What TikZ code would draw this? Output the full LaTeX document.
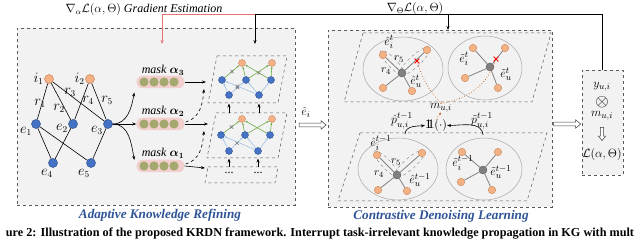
\documentclass[tikz,border=0pt]{standalone}
\usepackage{amsmath,amssymb,bm}
\usepackage{fontspec}
\setmainfont{Liberation Serif}
\usetikzlibrary{arrows.meta,shapes.geometric,shapes.misc,shapes.arrows,calc}
\definecolor{panel}{HTML}{F2F2F2}
\definecolor{nblue}{HTML}{4472C4}
\definecolor{nblueD}{HTML}{2F528F}
\definecolor{norange}{HTML}{F4B183}
\definecolor{norangeD}{HTML}{C9865A}
\definecolor{ngray}{HTML}{808080}
\definecolor{ngrayD}{HTML}{595959}
\definecolor{ggreen}{HTML}{70AD47}
\definecolor{lblue}{HTML}{9DC3E6}
\definecolor{pinkbar}{HTML}{F2CFCF}
\definecolor{olivec}{HTML}{A4A86E}
\definecolor{redline}{HTML}{E57373}
\definecolor{titleblue}{HTML}{2F5597}
\definecolor{dotor}{HTML}{C55A11}
\newcommand{\indone}{\mathrm{1}\mkern-5.5mu\mathrm{1}}
\begin{document}
\begin{tikzpicture}[x=1pt,y=-1pt,
  font=\fontsize{12}{14}\selectfont,
  kgb/.style={circle,fill=nblue,draw=nblueD,line width=0.5pt,minimum size=9pt,inner sep=0pt},
  kgo/.style={circle,fill=norange,draw=norangeD,line width=0.5pt,minimum size=9pt,inner sep=0pt},
  sb/.style={circle,fill=nblue,draw=nblueD,line width=0.4pt,minimum size=7pt,inner sep=0pt},
  so/.style={circle,fill=norange,draw=norangeD,line width=0.4pt,minimum size=7pt,inner sep=0pt},
  ro/.style={circle,fill=norange,draw=norangeD,line width=0.4pt,minimum size=7.5pt,inner sep=0pt},
  cg/.style={circle,fill=ngray,draw=ngrayD,line width=0.4pt,minimum size=8pt,inner sep=0pt},
  kgl/.style={inner sep=0pt,font=\fontsize{13.5}{14}\selectfont},
  lbl/.style={inner sep=0pt,font=\fontsize{13}{15}\selectfont},
  slbl/.style={inner sep=0pt,font=\fontsize{11}{12}\selectfont},
  panelbox/.style={draw=black!65,dashed,line width=0.6pt,fill=panel,inner sep=0pt},
  para/.style={draw=black!65,dashed,line width=0.5pt},
  arr/.style={-{Stealth[length=4pt,width=3pt]},line width=0.6pt},
  garr/.style={-{Stealth[length=2.5pt,width=2pt]},draw=ggreen,line width=0.6pt},
  barr/.style={-{Stealth[length=2.5pt,width=2pt]},draw=lblue,line width=0.6pt},
  kge/.style={line width=0.6pt},
  re/.style={draw=black!50,line width=0.8pt},
  hollowarrow/.style={single arrow,draw=black!75,fill=white,line width=0.5pt,inner sep=1.7pt,
     single arrow head extend=2.3pt,single arrow head indent=0pt,single arrow tip angle=80},
  rx/.style={cross out,draw=red,line width=0.8pt,minimum size=4pt,inner sep=0pt},
  tx/.style={cross out,draw=black!55,line width=0.4pt,minimum size=3pt,inner sep=0pt},
  dotline/.style={draw=dotor,dotted,line width=0.7pt},
  ell/.style={draw=black!35,line width=0.5pt},
  dell/.style={draw=black!50,dashed,line width=0.4pt},
  ptitle/.style={font=\fontsize{13.2}{15}\selectfont\bfseries\itshape,text=titleblue},
  maskbar/.style={fill=pinkbar,rounded corners=6pt,minimum width=48pt,minimum height=12.5pt,inner sep=0pt}
]
\fill[white] (0,0) rectangle (640,240);
\useasboundingbox (0,0) rectangle (640,240);

% panels
\node[panelbox,anchor=north west,minimum width=278pt,minimum height=177pt] (LP) at (17,28) {};
\node[panelbox,anchor=north west,minimum width=224pt,minimum height=177pt] (RP) at (328,30) {};
\node[panelbox,anchor=north west,minimum width=41pt,minimum height=105pt] (BX) at (582,70) {};

% top feedback lines
\coordinate (jA) at (255,14);
\coordinate (jR) at (162,14);
\coordinate (jT) at (448,14);
\coordinate (aT) at (255,44);
\coordinate (aR) at (162,44);
\draw[line width=0.7pt] (BX.north) |- (jA);
\draw[arr] (jA) -- (aT);
\draw[arr,draw=redline] (jA) -- (jR) -- (aR);
\draw[arr] (jT) -- (RP.north -| jT);
\node[anchor=base] (gA) at (144,12.3) {$\nabla_{\alpha}\mathcal{L}(\alpha,\Theta)$ \textit{Gradient Estimation}};
\node[anchor=base] (gT) at (415,12) {$\nabla_{\Theta}\mathcal{L}(\alpha,\Theta)$};

% KG
\node[kgo] (i1) at (49,79) {};
\node[kgo] (i2) at (90,79) {};
\node[kgb] (e1) at (36,124) {};
\node[kgb] (e2) at (73,124) {};
\node[kgb] (e3) at (108,124) {};
\node[kgb] (e4) at (53,163) {};
\node[kgb] (e5) at (91,163) {};
\draw[kge] (i1)--(e1) (i1)--(e2) (i1)--(e3) (i2)--(e2) (i2)--(e3)
           (e1)--(e4) (e1)--(e5) (e2)--(e4) (e3)--(e5);
\node[kgl] (li1) at (38.5,79) {$i_1$};
\node[kgl] (li2) at (79.5,79) {$i_2$};
\node[kgl] (le1) at (26,131) {$e_1$};
\node[kgl] (le2) at (62,128) {$e_2$};
\node[kgl] (le3) at (97,130) {$e_3$};
\node[kgl] (le4) at (47,173) {$e_4$};
\node[kgl] (le5) at (84,173) {$e_5$};
\node[kgl] (lr1) at (40,103) {$r_1$};
\node[kgl] (lr2) at (59,108) {$r_2$};
\node[kgl] (lr3) at (70,92) {$r_3$};
\node[kgl] (lr4) at (88,100) {$r_4$};
\node[kgl] (lr5) at (107,100) {$r_5$};

% masks
\node[maskbar] (m3) at (160.5,82) {};
\node[maskbar] (m2) at (160.5,124) {};
\node[maskbar] (m1) at (160.5,166) {};
\foreach \yy in {82,124,166}{
  \foreach \xx in {144,154,164,174}{
    \fill[olivec] (\xx,\yy) circle[radius=4.6pt];
  }
}
\node (t3) at (163,70) {\textit{mask} $\bm{\alpha_3}$};
\node (t2) at (163,111) {\textit{mask} $\bm{\alpha_2}$};
\node (t1) at (163,153) {\textit{mask} $\bm{\alpha_1}$};

\draw[arr] (e3.east) to[out=0,in=-100] ($(m3.south west)+(-2,4)$);
\draw[arr] (e3.east) -- (m2.west);
\draw[arr] (e3.east) to[out=0,in=100] ($(m1.west)+(-2,-6)$);

% graph stack
\draw[para] (217,56) -- (287,56) -- (278,103) -- (208,103) -- cycle;
\draw[para] (216,113) -- (287,113) -- (278,158) -- (207,158) -- cycle;
\draw[para] (208,167) -- (278,167) -- (275,183) -- (205,183) -- cycle;
\coordinate (p3) at (206,82);
\coordinate (p2) at (208,124);
\coordinate (p1) at (205,168);
\coordinate (q2) at (204,89);
\coordinate (q1) at (204,131);
\draw[arr] (m3.east) -- (p3);
\draw[arr] (m2.east) -- (p2);
\draw[arr] (m1.east) -- (p1);
\draw[arr,dashed] ($(m2.east)+(1,-2)$) to[out=15,in=-95] (q2);
\draw[arr,dashed] ($(m1.east)+(1,-2)$) to[out=15,in=-95] (q1);
\coordinate (v1a) at (229,113); \coordinate (v1b) at (229,103.5);
\coordinate (v2a) at (259,113); \coordinate (v2b) at (259,103.5);
\coordinate (v3a) at (229,167); \coordinate (v3b) at (229,158.5);
\coordinate (v4a) at (258,167); \coordinate (v4b) at (258,158.5);
\draw[arr] (v1a) -- (v1b);
\draw[arr] (v2a) -- (v2b);
\draw[arr] (v3a) -- (v3b);
\draw[arr] (v4a) -- (v4b);
\node (dd1) at (229,173) {...};
\node (dd2) at (258,173) {...};

% top small graph
\node[so] (to1) at (242,63) {};
\node[so] (to2) at (272,63) {};
\node[sb] (tb1) at (222,80) {};
\node[sb] (tb2) at (246,80) {};
\node[sb] (tb3) at (271,80) {};
\node[sb] (tc1) at (229,95) {};
\node[sb] (tc2) at (259,95) {};
\draw[garr] (tb1) -- node[tx] (x1) {} (to1);
\draw[garr] (tb2) -- (to1);
\draw[garr] (tb2) -- (to2);
\draw[garr] (tb3) -- node[tx,pos=.4] (x2) {} (to1);
\draw[garr] (tb3) -- (to2);
\draw[barr] (tc1) -- (tb1);
\draw[barr] (tc1) -- node[tx] (x3) {} (tb2);
\draw[barr] (tc2) -- node[tx,pos=.6] (x4) {} (tb1);
\draw[barr] (tc2) -- (tb2);
\draw[barr] (tc2) -- (tb3);

% middle small graph
\node[so] (mo1) at (242,119) {};
\node[so] (mo2) at (272,119) {};
\node[sb] (mb1) at (221,135) {};
\node[sb] (mb2) at (245,135) {};
\node[sb] (mb3) at (270,135) {};
\node[sb] (mc1) at (229,151) {};
\node[sb] (mc2) at (258,151) {};
\draw[garr] (mb1) -- node[tx] (x5) {} (mo1);
\draw[garr] (mb2) -- (mo1);
\draw[garr] (mb2) -- (mo2);
\draw[garr] (mb3) -- (mo1);
\draw[garr] (mb3) -- (mo2);
\draw[barr] (mc1) -- (mb1);
\draw[barr] (mc1) -- node[tx] (x6) {} (mb2);
\draw[barr] (mc2) -- (mb1);
\draw[barr] (mc2) -- (mb2);
\draw[barr] (mc2) -- (mb3);

% hollow arrows and e_i
\node[hollowarrow,minimum height=27pt] (h1) at (311.5,125) {};
\node[lbl] (ehat) at (306,112) {$\hat{e}_i$};
\node[hollowarrow,minimum height=27pt] (h2) at (566,124) {};

% right panel: upper parallelogram
\draw[para] (363,33) -- (551,33) -- (532,102) -- (344,102) -- cycle;
\draw[ell] (403,69) ellipse[x radius=40pt,y radius=32pt];
\draw[ell] (485,68) ellipse[x radius=37pt,y radius=32pt];
% upper-left graph
\draw[dell,rotate around={42.6:(414.5,61.5)}] (414.5,61.5) ellipse[x radius=21pt,y radius=5.5pt];
\draw[dell,rotate around={-46.5:(392.5,63)}] (392.5,63) ellipse[x radius=17pt,y radius=4.5pt];
\node[cg] (uc) at (402,73) {};
\node[ro] (u1) at (383,55) {};
\node[ro] (u2) at (427,50) {};
\node[ro] (u3) at (383,88) {};
\node[ro] (u4) at (412,91) {};
\draw[re] (uc) -- (u1) (uc) -- (u2) (uc) -- (u3) (uc) -- (u4);
\node[rx] (rx1) at (417,61) {};
\node[lbl] (lu1) at (389,42) {$\hat{e}_i^t$};
\node[slbl] (lu2) at (399,59) {$r_5$};
\node[slbl] (lu3) at (386,71) {$r_4$};
\node[lbl] (lu4) at (416,81) {$\hat{e}_u^t$};
% upper-right graph
\node[cg] (vc) at (490,67) {};
\node[ro] (v1) at (473,48) {};
\node[ro] (v2) at (505,48) {};
\node[ro] (v3) at (465,78) {};
\node[ro] (v4) at (498,88) {};
\draw[re] (vc) -- (v1) (vc) -- (v2) (vc) -- (v3) (vc) -- (v4);
\node[rx] (rx2) at (496,59) {};
\node[lbl] (lv1) at (464,59) {$\tilde{e}_i^t$};
\node[lbl] (lv2) at (506,74) {$\tilde{e}_u^t$};

% middle: m, indicator
\node[lbl] (mui) at (441,108) {$m_{u,i}$};
\node[lbl] (ind) at (436,125.5) {$\indone(\cdot)$};
\node[lbl] (phat) at (402,121) {$\hat{p}_{u,i}^{t-1}$};
\node[lbl] (ptil) at (482,121) {$\tilde{p}_{u,i}^{t-1}$};
\draw[dotline] (mui.north) to[bend left=12] (rx1);
\draw[dotline] (mui.north) to[out=10,in=-110] (rx2);
\draw[dotline,-{Stealth[length=2.5pt,width=2pt]}] (ind.north) -- (mui.south);

% lower parallelogram
\draw[para] (360,133) -- (547,133) -- (527,201) -- (338,201) -- cycle;
\draw[ell] (398,169) ellipse[x radius=40pt,y radius=31pt];
\draw[ell] (484,169) ellipse[x radius=38pt,y radius=31pt];
\coordinate (sL) at (405,134);
\coordinate (sR) at (483,135);
\draw[arr] (sL) to[out=85,in=185] (ind.west);
\draw[arr] (sR) to[out=95,in=0] (ind.east);
% lower-left graph
\draw[dell,rotate around={41.3:(409.5,164)}] (409.5,164) ellipse[x radius=20.5pt,y radius=5.5pt];
\draw[dell,rotate around={-46.3:(386.5,164)}] (386.5,164) ellipse[x radius=18pt,y radius=4.5pt];
\node[cg] (wc) at (397,175) {};
\node[ro] (w1) at (377,155) {};
\node[ro] (w2) at (422,153) {};
\node[ro] (w3) at (378,190) {};
\node[ro] (w4) at (407,191) {};
\draw[re] (wc) -- (w1) (wc) -- (w2) (wc) -- (w3) (wc) -- (w4);
\node[lbl] (lw1) at (381,143) {$\hat{e}_i^{t-1}$};
\node[slbl] (lw2) at (396,162) {$r_5$};
\node[slbl] (lw3) at (379,174) {$r_4$};
\node[lbl] (lw4) at (420,180) {$\hat{e}_u^{t-1}$};
% lower-right graph
\node[cg] (zc) at (483,170) {};
\node[ro] (z1) at (462,152) {};
\node[ro] (z2) at (498,152) {};
\node[ro] (z3) at (461,182) {};
\node[ro] (z4) at (492,190) {};
\draw[re] (zc) -- (z1) (zc) -- (z2) (zc) -- (z3) (zc) -- (z4);
\node[lbl] (lz1) at (463,163) {$\tilde{e}_i^{t-1}$};
\node[lbl] (lz2) at (501,172) {$\tilde{e}_u^{t-1}$};

% right box
\node[lbl] (by) at (602,87) {$y_{u,i}$};
\node[inner sep=0pt,font=\fontsize{16}{17}\selectfont] (bo) at (602,102) {$\otimes$};
\node[lbl] (bm) at (602,116) {$m_{u,i}$};
\node[hollowarrow,minimum height=13pt,inner sep=1.4pt,single arrow head extend=2pt,rotate=-90] (h3) at (602,133) {};
\node[lbl,font=\fontsize{12.5}{14}\selectfont] (bl) at (602,155) {$\mathcal{L}(\alpha,\Theta)$};

% titles
\node[ptitle] (T1) at (160,215) {Adaptive Knowledge Refining};
\node[ptitle] (T2) at (441,216) {Contrastive Denoising Learning};
\node[anchor=base,font=\fontsize{12.2}{13}\selectfont\bfseries] (cap) at (320,236.5) {ure 2: Illustration of the proposed KRDN framework. Interrupt task-irrelevant knowledge propagation in KG with mult};
\end{tikzpicture}
\end{document}
